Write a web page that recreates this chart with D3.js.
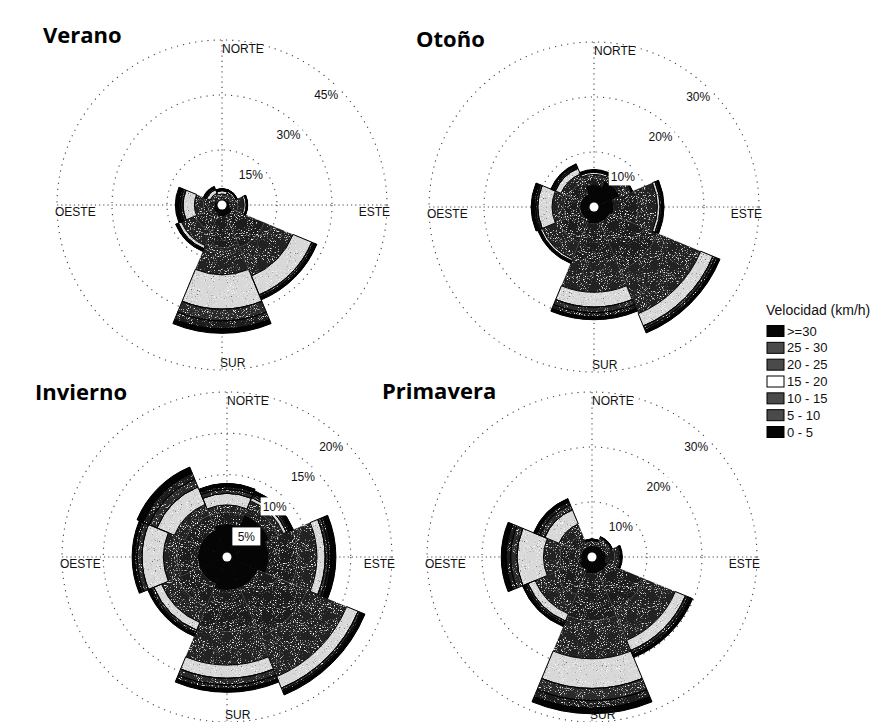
<!DOCTYPE html>
<html>
<head>
<meta charset="utf-8">
<script src="https://cdn.jsdelivr.net/npm/d3@7"></script>
<style>
  html, body { margin: 0; padding: 0; background: #fff; }
  svg { display: block; }
</style>
</head>
<body>
<svg id="chart" width="885" height="722"></svg>
<script>
// Wind direction sectors (clockwise from north) and wind-speed classes (km/h)
const directions = ["N", "NE", "E", "SE", "S", "SW", "W", "NW"];
const speedBins = ["0 - 5", "5 - 10", "10 - 15", "15 - 20", "20 - 25", "25 - 30", ">=30"];
const compassLabels = ["NORTE", "ESTE", "SUR", "OESTE"];
const seasonNames = ["Verano", "Otoño", "Invierno", "Primavera"];

// Frequency (%) per direction, one value per speed class (0-5 ... >=30)
const verano = [
  [1.5, 0.9, 0.6, 0.9, 0.3, 0.2, 0.1],
  [1.8, 1.1, 0.7, 0.5, 0.2, 0.1, 0.1],
  [2.0, 2.3, 1.7, 0.6, 0.2, 0.1, 0.1],
  [3.0, 9.5, 8.5, 5.5, 0.6, 0.4, 0.5],
  [3.0, 8.5, 7.5, 9.4, 3.2, 2.2, 1.2],
  [2.5, 5.3, 4.2, 0.9, 0.3, 0.2, 0.3],
  [2.0, 3.0, 2.5, 3.1, 0.7, 0.5, 0.9],
  [1.5, 1.2, 0.8, 1.1, 0.3, 0.3, 0.3]
];
const otono = [
  [4.0, 1.3, 0.6, 0.4, 0.2, 0.1, 0.2],
  [5.0, 1.4, 0.7, 0.2, 0.1, 0.1, 0.1],
  [3.5, 4.5, 3.5, 0.5, 0.3, 0.2, 0.2],
  [3.0, 9.5, 8.5, 2.4, 0.5, 0.4, 0.5],
  [3.0, 7.0, 5.5, 2.7, 1.0, 0.8, 0.5],
  [2.5, 4.5, 3.2, 0.4, 0.2, 0.1, 0.2],
  [2.5, 3.0, 2.1, 2.6, 0.4, 0.3, 0.5],
  [2.5, 2.4, 1.6, 1.1, 0.3, 0.3, 0.3]
];
const invierno = [
  [4.0, 1.4, 0.9, 1.4, 0.5, 0.3, 0.4],
  [5.5, 1.2, 0.7, 0.4, 0.3, 0.2, 0.4],
  [5.0, 3.5, 2.4, 1.0, 0.4, 0.3, 0.6],
  [4.0, 6.5, 5.2, 1.5, 0.3, 0.2, 0.4],
  [4.0, 5.0, 4.1, 1.6, 0.8, 0.5, 0.4],
  [3.5, 3.0, 2.1, 1.0, 0.3, 0.2, 0.3],
  [3.5, 2.5, 1.7, 2.6, 0.6, 0.3, 0.3],
  [3.5, 2.0, 1.4, 2.3, 1.0, 0.8, 0.8]
];
const primavera = [
  [2.0, 0.7, 0.3, 0.1, 0.1, 0.05, 0.05],
  [2.2, 0.9, 0.5, 0.2, 0.1, 0.05, 0.05],
  [2.5, 1.6, 0.9, 0.2, 0.1, 0.1, 0.1],
  [3.0, 7.3, 6.1, 2.0, 0.5, 0.4, 0.5],
  [3.0, 8.5, 7.0, 5.4, 2.2, 1.4, 1.0],
  [2.5, 4.9, 3.8, 1.4, 0.4, 0.3, 0.4],
  [2.0, 3.8, 3.0, 4.8, 1.2, 0.8, 0.9],
  [2.0, 2.5, 2.0, 2.8, 1.0, 0.6, 0.6]
];

// Radial tick values (%) of each rose
const ticksVerano = [15, 30, 45];
const ticksOtono = [10, 20, 30];
const ticksInvierno = [5, 10, 15, 20];
const ticksPrimavera = [10, 20, 30];

// ---- drawing ----
const binFill = ["#050505", "#1e1e1e", "#222", "#d8d8d8", "#2a2a2a", "#1c1c1c", "#030303"];
const R = 165;
const svg = d3.select("#chart");

// print-like grain: sparse light specks on dark fills, dark specks on light fills
const defs = svg.append("defs");
const f = defs.append("filter").attr("id", "grain")
  .attr("x", "-5%").attr("y", "-5%").attr("width", "110%").attr("height", "110%");
f.append("feTurbulence").attr("type", "fractalNoise").attr("baseFrequency", 0.95)
  .attr("numOctaves", 2).attr("seed", 5).attr("result", "t");
f.append("feColorMatrix").attr("in", "t").attr("type", "matrix")
  .attr("values", "0 0 0 0 1  0 0 0 0 1  0 0 0 0 1  6 0 0 0 -3.75").attr("result", "w");
f.append("feColorMatrix").attr("in", "t").attr("type", "matrix")
  .attr("values", "0 0 0 0 0.15  0 0 0 0 0.15  0 0 0 0 0.15  0 -6 0 0 2.05").attr("result", "b");
const fm = f.append("feMerge").attr("result", "m");
fm.append("feMergeNode").attr("in", "SourceGraphic");
fm.append("feMergeNode").attr("in", "w");
fm.append("feMergeNode").attr("in", "b");
f.append("feComposite").attr("in", "m").attr("in2", "SourceAlpha").attr("operator", "in");

const roses = [
  { name: seasonNames[0], data: verano, ticks: ticksVerano, cx: 222, cy: 205, tx: 43, ty: 43 },
  { name: seasonNames[1], data: otono, ticks: ticksOtono, cx: 594, cy: 207, tx: 416, ty: 47 },
  { name: seasonNames[2], data: invierno, ticks: ticksInvierno, cx: 227, cy: 557, tx: 35, ty: 400 },
  { name: seasonNames[3], data: primavera, ticks: ticksPrimavera, cx: 592, cy: 557, tx: 382, ty: 399 }
];

const half = Math.PI / 8;

roses.forEach(rose => {
  const r = d3.scaleLinear().domain([0, d3.max(rose.ticks)]).range([0, R]);
  const ang = d3.scalePoint().domain(directions).range([0, 2 * Math.PI * 7 / 8]);
  const g = svg.append("g").attr("transform", `translate(${rose.cx},${rose.cy})`);

  // dotted grid: rings and compass axes
  g.selectAll("circle.ring").data(rose.ticks).join("circle")
    .attr("class", "ring")
    .attr("r", d => r(d))
    .attr("fill", "none")
    .attr("stroke", "#444")
    .attr("stroke-width", 1.1)
    .attr("stroke-dasharray", "1.2 5");
  g.append("line").attr("x1", -R).attr("x2", R).attr("y1", 0).attr("y2", 0)
    .attr("stroke", "#444").attr("stroke-width", 1.1).attr("stroke-dasharray", "1.2 3");
  g.append("line").attr("x1", 0).attr("x2", 0).attr("y1", -R).attr("y2", R)
    .attr("stroke", "#444").attr("stroke-width", 1.1).attr("stroke-dasharray", "1.2 4");

  // stacked sectors
  const segs = [];
  rose.data.forEach((vals, i) => {
    let cum = 0;
    vals.forEach((v, j) => {
      segs.push({ dir: directions[i], bin: j, y0: cum, y1: cum + v });
      cum += v;
    });
  });
  const arc = d3.arc()
    .innerRadius(d => r(d.y0))
    .outerRadius(d => r(d.y1))
    .startAngle(d => ang(d.dir) - half)
    .endAngle(d => ang(d.dir) + half);

  // textured fills
  g.append("g").attr("filter", "url(#grain)")
    .selectAll("path").data(segs).join("path")
    .attr("d", arc)
    .attr("fill", d => binFill[d.bin])
    .attr("stroke", binFill[1])
    .attr("stroke-width", 0.4);

  // solid black classes and crisp outlines of the outer classes
  g.append("g").selectAll("path").data(segs.filter(d => d.bin >= 3 || d.bin === 0)).join("path")
    .attr("d", arc)
    .attr("fill", d => (d.bin === 0 || d.bin === 6) ? binFill[d.bin] : "none")
    .attr("stroke", "#000")
    .attr("stroke-width", d => d.bin === 0 ? 0.3 : 1);

  // hub
  g.append("circle").attr("r", 4.5).attr("fill", "#fff");

  // percentage labels along the NE diagonal, on a white backing
  const lab = g.append("g").selectAll("g").data(rose.ticks).join("g")
    .attr("transform", d => {
      const rr = r(d) - 13, a = Math.PI / 4 - 0.03;
      return `translate(${rr * Math.sin(a)},${-rr * Math.cos(a)})`;
    });
  lab.append("rect").attr("x", -14).attr("y", -9).attr("width", 28).attr("height", 18).attr("fill", "#fff");
  lab.append("text")
    .attr("text-anchor", "middle").attr("dy", "0.35em")
    .attr("font-family", "Liberation Sans, Arial, sans-serif").attr("font-size", 12)
    .attr("fill", "#111")
    .text(d => d + "%");

  // compass labels
  const cl = [
    { t: compassLabels[0], x: 0, y: -156, a: "start" },
    { t: compassLabels[1], x: 168, y: 7, a: "end" },
    { t: compassLabels[2], x: -2, y: 158, a: "start" },
    { t: compassLabels[3], x: -167, y: 7, a: "start" }
  ];
  g.selectAll("text.cmp").data(cl).join("text")
    .attr("class", "cmp")
    .attr("x", d => d.x).attr("y", d => d.y).attr("dy", "0.35em")
    .attr("text-anchor", d => d.a)
    .attr("font-family", "Liberation Sans, Arial, sans-serif").attr("font-size", 12)
    .attr("fill", "#111")
    .text(d => d.t);

  // season title
  svg.append("text")
    .attr("x", rose.tx).attr("y", rose.ty)
    .attr("font-family", "Open Sans, Lato, sans-serif").attr("font-weight", 700).attr("font-size", 22)
    .attr("fill", "#000")
    .text(rose.name);
});

// legend
const leg = svg.append("g");
leg.append("text").attr("x", 766).attr("y", 315)
  .attr("font-family", "Liberation Sans, Arial, sans-serif").attr("font-size", 14)
  .attr("fill", "#111").text("Velocidad (km/h)");
const legItems = speedBins.map((b, i) => ({ label: b, bin: i })).reverse();
const ly = d3.scalePoint().domain(legItems.map(d => d.label)).range([331, 432]);
const li = leg.selectAll("g.item").data(legItems).join("g").attr("class", "item")
  .attr("transform", d => `translate(767,${ly(d.label)})`);
li.append("rect").attr("x", 0).attr("y", -5.5).attr("width", 17).attr("height", 11)
  .attr("fill", d => d.bin === 3 ? "#fff" : (d.bin === 0 || d.bin === 6 ? "#050505" : "#4a4a4a"))
  .attr("stroke", "#000").attr("stroke-width", 1);
li.append("text").attr("x", 20).attr("dy", "0.35em")
  .attr("font-family", "Liberation Sans, Arial, sans-serif").attr("font-size", 13)
  .attr("fill", "#111").text(d => d.label);
</script>
</body>
</html>
